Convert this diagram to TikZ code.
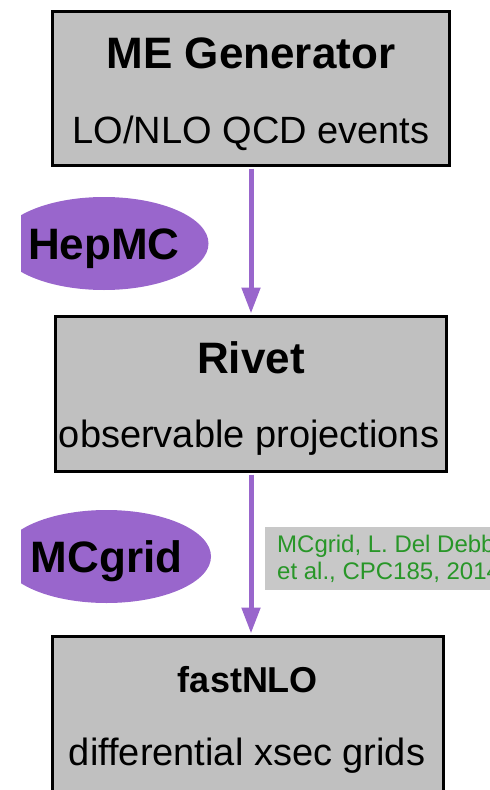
\documentclass[tikz,border=0pt]{standalone}
\usepackage{fontspec}
\setmainfont{Liberation Sans}
\usetikzlibrary{arrows.meta,shapes.geometric,positioning}
\definecolor{boxgray}{RGB}{192,192,192}
\definecolor{notegray}{RGB}{200,200,200}
\definecolor{mcpurple}{RGB}{153,102,204}
\definecolor{refgreen}{RGB}{40,150,40}
\tikzset{
  stage/.style={draw=black, line width=3pt, fill=boxgray, inner sep=0pt},
  head/.style={anchor=base, inner sep=0pt, font=\fontsize{44}{44}\selectfont\bfseries},
  sub/.style={anchor=base, inner sep=0pt, font=\fontsize{38}{38}\selectfont},
  tag/.style={ellipse, fill=mcpurple, inner xsep=-8pt, inner ysep=0pt, minimum width=209pt, minimum height=93pt, text height=31.5pt, text depth=0pt, font=\fontsize{44}{44}\selectfont\bfseries},
  note/.style={fill=notegray, text=refgreen, align=left, inner xsep=12pt, inner ysep=7.5pt, font=\fontsize{24}{27.5}\selectfont},
  flow/.style={draw=mcpurple, line width=5pt, shorten <=1.5pt, shorten >=1.5pt, -{Triangle[width=18pt,length=26pt]}}
}
\begin{document}
\begin{tikzpicture}[x=1pt,y=-1pt]
\useasboundingbox (0,0) rectangle (490,790);
\clip (21,0) rectangle (490,790);
% the three stages
\node[stage, minimum width=397pt, minimum height=154pt] (gen) at (251,88.5) {};
\node[head] (gentitle) at (251,68) {ME Generator};
\node[sub] (gensub) at (251,143) {LO/NLO QCD events};
\node[stage, minimum width=391pt, minimum height=155pt] (rivet) at (251,394) {};
\node[head] (rivettitle) at (251,373) {Rivet};
\node[sub] (rivetsub) at (249,447) {observable projections};
\node[stage, minimum width=391pt, minimum height=155pt] (fast) at (248,714) {};
\node[head, font=\fontsize{36}{36}\selectfont\bfseries] (fasttitle) at (248,692) {fastNLO};
\node[sub] (fastsub) at (247,765) {differential xsec grids};
% links
\draw[flow] (gen.south) -- (rivet.north);
\draw[flow] (rivet.south) -- (rivet.south |- fast.north);
\node[tag] (hepmc) at (104,243.5) {HepMC};
\node[tag] (mcgrid) at (106.5,556.5) {MCgrid};
\node[note, anchor=north west] (ref) at (265,527) {MCgrid, L. Del Debbio\\et al., CPC185, 2014};
\end{tikzpicture}
\end{document}
